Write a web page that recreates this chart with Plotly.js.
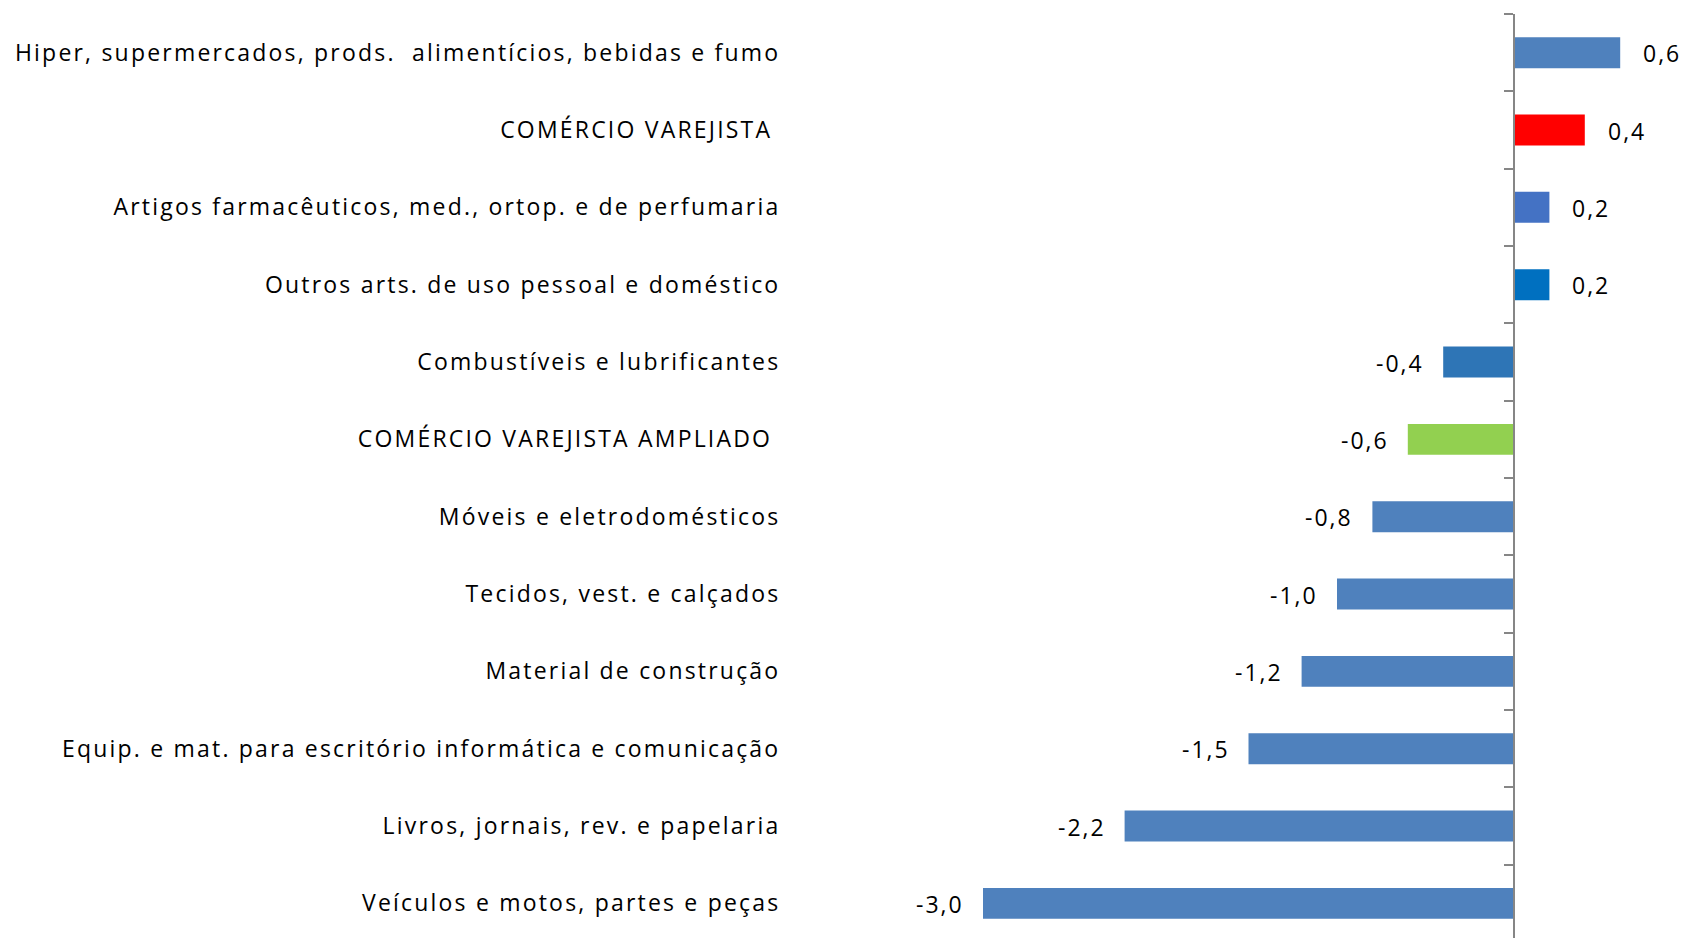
<!DOCTYPE html>
<html>
<head>
<meta charset="utf-8">
<script src="https://cdn.plot.ly/plotly-3.0.1.min.js"></script>
<style>
html,body{margin:0;padding:0;background:#fff;}
#chart{width:1685px;height:938px;}
#chart .ytick text{letter-spacing:2.2px;}
#chart .annotation-text, .annotation-text{letter-spacing:2px;}
</style>
</head>
<body>
<div id="chart"></div>
<script>
const categories = [
  "Hiper, supermercados, prods.  alimentícios, bebidas e fumo",
  "COMÉRCIO VAREJISTA",
  "Artigos farmacêuticos, med., ortop. e de perfumaria",
  "Outros arts. de uso pessoal e doméstico",
  "Combustíveis e lubrificantes",
  "COMÉRCIO VAREJISTA AMPLIADO",
  "Móveis e eletrodomésticos",
  "Tecidos, vest. e calçados",
  "Material de construção",
  "Equip. e mat. para escritório informática e comunicação",
  "Livros, jornais, rev. e papelaria",
  "Veículos e motos, partes e peças"
];
const tickLabels = [
  "Hiper, supermercados, prods.  alimentícios, bebidas e fumo",
  "COMÉRCIO VAREJISTA\u00a0",
  "Artigos farmacêuticos, med., ortop. e de perfumaria",
  "Outros arts. de uso pessoal e doméstico",
  "Combustíveis e lubrificantes",
  "COMÉRCIO VAREJISTA AMPLIADO\u00a0",
  "Móveis e eletrodomésticos",
  "Tecidos, vest. e calçados",
  "Material de construção",
  "Equip. e mat. para escritório informática e comunicação",
  "Livros, jornais, rev. e papelaria",
  "Veículos e motos, partes e peças"
];
const values = [0.6, 0.4, 0.2, 0.2, -0.4, -0.6, -0.8, -1.0, -1.2, -1.5, -2.2, -3.0];
const barColors = ["#4F81BD", "#FF0000", "#4472C4", "#0070C0", "#2E75B6", "#92D050",
  "#4F81BD", "#4F81BD", "#4F81BD", "#4F81BD", "#4F81BD", "#4F81BD"];

const W = 1685, H = 938;
const zeroPx = 1514, pxPerUnit = 177;
const xRange = [-zeroPx / pxPerUnit, (W - zeroPx) / pxPerUnit];

const trace = {
  type: 'bar',
  orientation: 'h',
  x: values,
  y: categories,
  marker: {color: barColors, line: {width: 0}},
  hoverinfo: 'none'
};

const annotations = values.map((v, i) => ({
  x: v, y: categories[i], xref: 'x', yref: 'y',
  text: v.toFixed(1).replace('.', ','),
  showarrow: false,
  xanchor: v >= 0 ? 'left' : 'right',
  xshift: v >= 0 ? 21 : -17,
  yshift: -0.5,
  font: {family: 'Open Sans', size: 23, color: '#000'}
}));

const layout = {
  width: W, height: H,
  margin: {l: 0, r: 0, t: 14, b: 0, pad: 0},
  paper_bgcolor: '#ffffff', plot_bgcolor: '#ffffff',
  showlegend: false,
  bargap: 0.6,
  xaxis: {range: xRange, showgrid: false, zeroline: false, showticklabels: false,
          ticks: '', showline: false, fixedrange: true},
  yaxis: {
    type: 'category',
    range: [11.448, -0.5],
    tickmode: 'array', tickvals: categories, ticktext: tickLabels,
    anchor: 'free', position: zeroPx / W,
    showline: true, linecolor: '#868686', linewidth: 2,
    ticks: 'outside', tickson: 'boundaries', ticklen: 9, tickwidth: 2, tickcolor: '#868686',
    ticklabelstandoff: 728,
    ticklabelshift: -1.5,
    showgrid: false, zeroline: false,
    tickfont: {family: 'Open Sans', size: 23, color: '#000'},
    automargin: false
  },
  annotations: annotations,
  font: {family: 'Open Sans'}
};

Plotly.newPlot('chart', [trace], layout, {displayModeBar: false, staticPlot: true});
</script>
</body>
</html>
